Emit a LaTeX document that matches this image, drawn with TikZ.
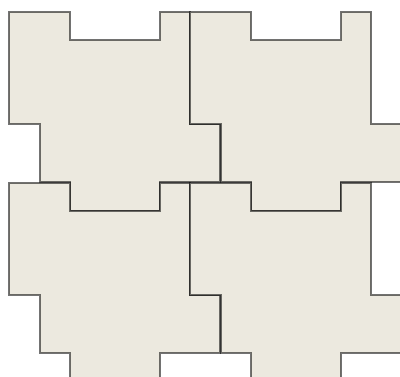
\documentclass[tikz,border=0pt]{standalone}
\usepackage{xcolor}
\definecolor{tilefill}{HTML}{ECE9DF}

\begin{document}
\begin{tikzpicture}[
      x=1pt, y=-1pt,
      tile/.style={fill=tilefill, draw=black, draw opacity=0.55, line width=1.2pt},
    ]
    \clip (0,0) rectangle (400,377);
    % four interlocking tiles, left to right, top to bottom
    \foreach \ox/\oy in {9/12, 190/12, 9/183, 190/183} {
      \draw[tile, shift={(\ox,\oy)}]
        (0,0) -- (61,0) -- (61,28) -- (151,28) -- (151,0) -- (181,0)
        -- (181,112) -- (211,112) -- (211,170) -- (151,170) -- (151,199)
        -- (61,199) -- (61,170) -- (31,170) -- (31,112) -- (0,112) -- cycle;
    }
  \end{tikzpicture}
\end{document}
